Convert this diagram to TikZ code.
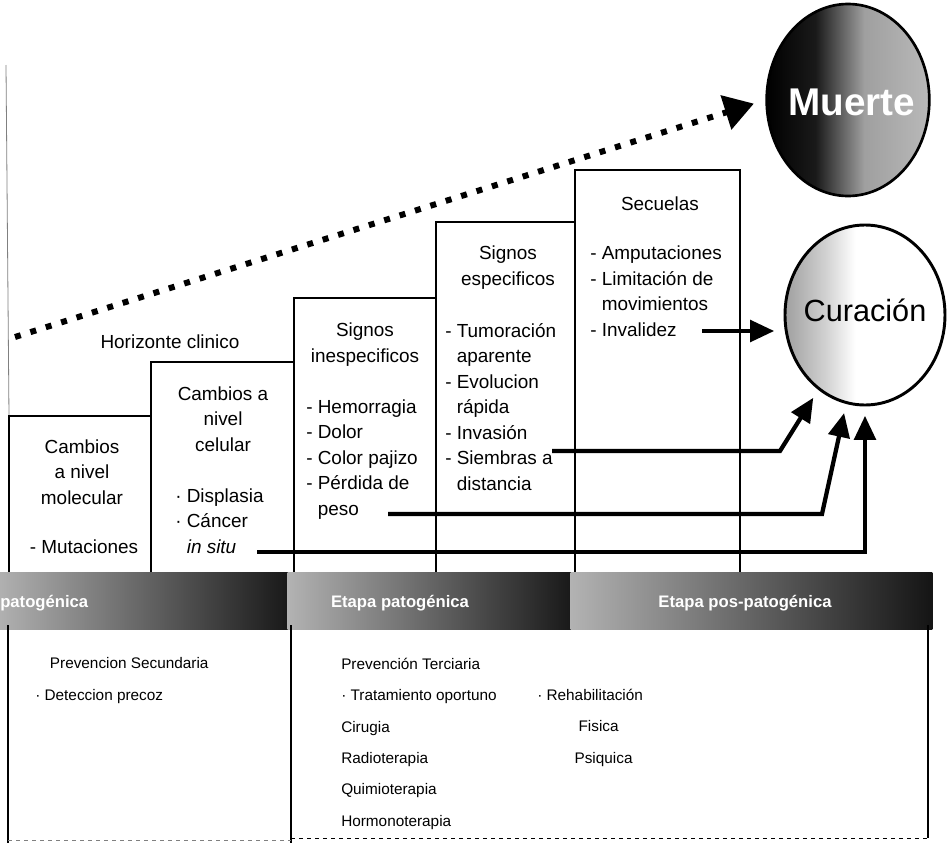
\documentclass[tikz,border=0pt]{standalone}
\usepackage{fontspec}
\setmainfont{Liberation Sans}
\usetikzlibrary{arrows.meta,shapes.geometric,fit}
\pgfdeclarehorizontalshading{curshade}{100bp}{color(0bp)=(gray!75); color(25bp)=(gray!75);
  color(38bp)=(gray!35); color(47bp)=(white); color(100bp)=(white)}
\pgfdeclarehorizontalshading{muershade}{100bp}{color(0bp)=(black); color(25bp)=(black);
  color(40bp)=(black!90); color(55bp)=(gray!75); color(75bp)=(gray!55); color(100bp)=(gray!55)}

\begin{document}
\begin{tikzpicture}[x=0.75pt,y=-0.75pt,font=\fontsize{14.2}{19.1}\selectfont,
  stepbox/.style={draw,line width=2pt,inner sep=0pt},
  head/.style={align=center,anchor=base,inner sep=0pt},
  lst/.style={align=left,anchor=base west,inner sep=0pt},
  low/.style={align=left,anchor=base west,inner sep=0pt,
              font=\fontsize{11.5}{23.5}\selectfont},
  bandtxt/.style={text=white,font=\bfseries\fontsize{12.5}{14}\selectfont,inner sep=0pt},
  seg/.style={left color=gray!60,right color=black!92,draw=none},
  conn/.style={line width=3.2pt,-{Triangle[length=18pt,width=16pt]},shorten >=7pt},
  dots/.style={line width=4.5pt,dash pattern=on 4.5pt off 7.6pt,
               -{Triangle[length=22pt,width=26pt]},shorten >=9pt}]
  \useasboundingbox (0,0) rectangle (951,843);

  \draw[gray,line width=0.6pt] (6,65) -- (9,416);

  \node[stepbox,fit={(9,416)(151,577)}]  (s1) {};
  \node[stepbox,fit={(151,362)(294,577)}] (s2) {};
  \node[stepbox,fit={(294,298)(436,577)}] (s3) {};
  \node[stepbox,fit={(436,222)(575,577)}] (s4) {};
  \node[stepbox,fit={(575,170)(740,577)}] (s5) {};

  \node[seg,fit={(0,577)(292,625)}]   (g1) {};
  \node[seg,fit={(292,577)(575,625)}] (g2) {};
  \node[seg,fit={(575,577)(928,625)}] (g3) {};
  \node[bandtxt,anchor=west] (b1) at (0,603) {patogénica};
  \node[bandtxt] (b2) at (400,603) {Etapa patogénica};
  \node[bandtxt] (b3) at (745,603) {Etapa pos-patogénica};

  \draw[line width=1.2pt] (8,625) -- (8,843);
  \draw[line width=0.8pt] (291,625) -- (291,843);
  \draw[line width=1.2pt] (928,625) -- (928,838);
  \draw[dashed,line width=0.6pt] (291,838) -- (928,838);
  \draw[dashed,gray,line width=0.5pt] (8,840) -- (291,840);

  \node[head] (hz) at (170,348) {Horizonte clinico};

  \node[head] (h1) at (82,504) {Cambios\\a nivel\\molecular};
  \node[head] (l1) at (84,553) {- Mutaciones};
  \node[head] (h2) at (223,451) {Cambios a\\nivel\\celular};
  \node[lst]  (l2) at (175,553) {· Displasia\\· Cáncer\\\phantom{· }\textit{in situ}};
  \node[head] (h3) at (365,362) {Signos\\inespecificos};
  \node[lst]  (l3) at (306,515) {- Hemorragia\\- Dolor\\- Color pajizo\\- Pérdida de\\\phantom{- }peso};
  \node[head] (h4) at (508,285) {Signos\\especificos};
  \node[lst]  (l4) at (445,490) {- Tumoración\\\phantom{- }aparente\\- Evolucion\\\phantom{- }rápida\\- Invasión\\- Siembras a\\\phantom{- }distancia};
  \node[head] (h5) at (660,210) {Secuelas};
  \node[lst]  (l5) at (590,336) {- Amputaciones\\- Limitación de\\\phantom{- }movimientos\\- Invalidez};

  \node[low] (p1) at (35,700) {\hspace*{11pt}Prevencion Secundaria\\· Deteccion precoz};
  \node[low] (p2) at (341,826) {Prevención Terciaria\\· Tratamiento oportuno\\Cirugia\\Radioterapia\\Quimioterapia\\Hormonoterapia};
  \node[low] (p3) at (537,763) {· Rehabilitación\\\hspace*{31pt}Fisica\\\hspace*{28pt}Psiquica};

  \node[ellipse,draw,line width=2pt,minimum width=122pt,minimum height=144pt,
        inner sep=0pt,shading=muershade] (mu) at (848,100) {};
  \node[text=white,font=\bfseries\fontsize{29}{29}\selectfont] (mut) at (852,102) {Muerte};
  \node[ellipse,draw,line width=2.2pt,minimum width=120pt,minimum height=135pt,
        inner sep=0pt,shading=curshade] (cu) at (865,315) {};
  \node[font=\fontsize{23}{23}\selectfont] (cut) at (865,310) {Curación};

  \coordinate (d0) at (15,337);
  \draw[dots] (d0) -- (mu.west);

  \coordinate (a1) at (552,451); \coordinate (k1) at (780,451);
  \coordinate (a2) at (388,514); \coordinate (k2) at (822,514);
  \coordinate (a3) at (257,552); \coordinate (k3) at (865,552);
  \coordinate (a4) at (702,331);
  \draw[conn] (a1) -- (k1) -- (cu.238);
  \draw[conn] (a2) -- (k2) -- (cu.258);
  \draw[conn] (a3) -- (k3) -- (cu.south);
  \draw[conn] (a4) -- (a4 -| cu.west);
\end{tikzpicture}
\end{document}
